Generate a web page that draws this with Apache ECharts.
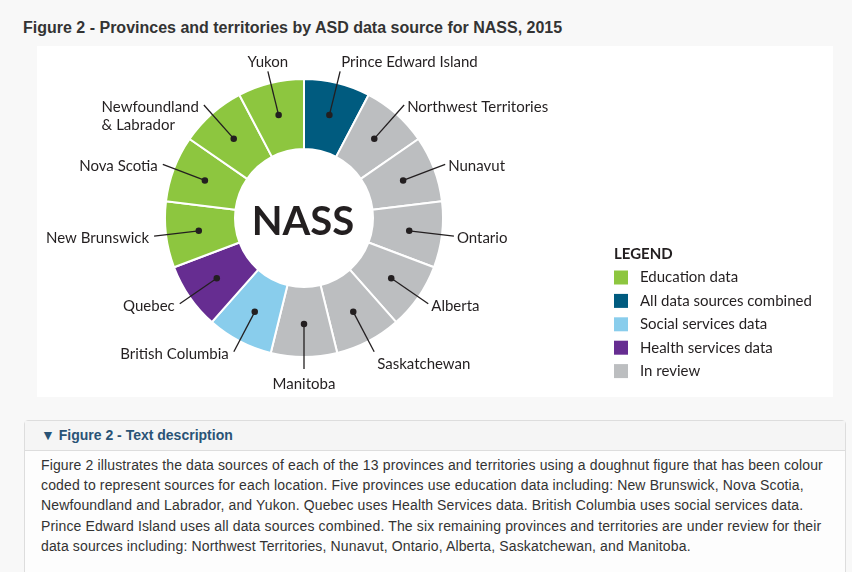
<!DOCTYPE html>
<html>
<head>
<meta charset="utf-8">
<script src="https://cdn.jsdelivr.net/npm/echarts@6/dist/echarts.min.js"></script>
<style>
    body { margin: 0; background: #f8f8f8; font-family: "Liberation Sans", Arial, sans-serif; color: #333; }
    #titre { position: absolute; left: 23px; top: 19px; margin: 0; font-size: 16px; font-weight: bold; color: #333; }
    #mainb { position: absolute; left: 37px; top: 46px; width: 796px; height: 351px; background: #fff; }
    #desc { position: absolute; left: 24px; top: 420px; width: 820px; height: 170px; border: 1px solid #ddd; border-radius: 4px; background: #fdfdfd; }
    #desc .entete { height: 29px; line-height: 29px; padding-left: 16px; border-bottom: 1px solid #ddd; background: #f5f5f5; font-weight: bold; font-size: 14px; color: #295376; }
    #desc .texte { padding: 4px 0 0 16px; font-size: 14px; line-height: 20.2px; letter-spacing: 0.14px; color: #333; white-space: nowrap; }
</style>
</head>
<body>
<h2 id="titre">Figure 2 - Provinces and territories by ASD data source for NASS, 2015</h2>
<div id="mainb"></div>
<div id="desc">
    <div class="entete">&#9660; Figure 2 - Text description</div>
    <div class="texte">Figure 2 illustrates the data sources of each of the 13 provinces and territories using a doughnut figure that has been colour<br>coded to represent sources for each location. Five provinces use education data including: New Brunswick, Nova Scotia,<br>Newfoundland and Labrador, and Yukon. Quebec uses Health Services data. British Columbia uses social services data.<br>Prince Edward Island uses all data sources combined. The six remaining provinces and territories are under review for their<br>data sources including: Northwest Territories, Nunavut, Ontario, Alberta, Saskatchewan, and Manitoba.</div>
</div>
<script>
// provinces clockwise from the top
var provinces = ['Prince Edward Island', 'Northwest Territories', 'Nunavut', 'Ontario', 'Alberta',
    'Saskatchewan', 'Manitoba', 'British Columbia', 'Quebec', 'New Brunswick', 'Nova Scotia',
    'Newfoundland & Labrador', 'Yukon'];
var sources = ['All data sources combined', 'In review', 'In review', 'In review', 'In review',
    'In review', 'In review', 'Social services data', 'Health services data', 'Education data',
    'Education data', 'Education data', 'Education data'];
var parts = [1, 1, 1, 1, 1, 1, 1, 1, 1, 1, 1, 1, 1];
var legende = ['Education data', 'All data sources combined', 'Social services data', 'Health services data', 'In review'];

var couleurs = {
    'Education data': '#8dc63f',
    'All data sources combined': '#005b7f',
    'Social services data': '#89cdec',
    'Health services data': '#662d91',
    'In review': '#bcbec0'
};

var centre = [267, 172];
var rayonPoint = 106;
var encre = '#231f20';

var chart = echarts.init(document.getElementById('mainb'));

var anneau = provinces.map(function(p, i) {
    return { name: p, value: parts[i], itemStyle: { color: couleurs[sources[i]] } };
});
var etiquettes = provinces.map(function(p, i) {
    return { name: p, value: parts[i] };
});
var points = provinces.map(function(p) {
    return [rayonPoint, p];
});

// place the text at the end of each radial line
function placer(params) {
    var pts = params.labelLinePoints;
    if (!pts) return {};
    var a = pts[0], b = pts[pts.length - 1];
    var dx = b[0] - a[0], dy = b[1] - a[1];
    var r = Math.abs(dx) / Math.abs(dy);
    var lignes = (params.text || '').split('\n').length;
    if (r < 0.3) {
        return {
            x: dx > 1 ? b[0] + 1 : b[0], y: b[1] + (dy < 0 ? 0 : 6),
            align: dx > 1 ? 'left' : 'center', verticalAlign: dy < 0 ? 'bottom' : 'top',
            labelLinePoints: pts
        };
    }
    if (r < 0.6 && dx > 0 && dy > 0) {
        return { x: b[0] + 3, y: b[1] + 3, align: 'left', verticalAlign: 'top', labelLinePoints: pts };
    }
    return {
        x: b[0] + (dx < 0 ? -5 : 3), y: b[1] + 2 + (lignes - 1) * 9,
        align: dx < 0 ? 'right' : 'left', verticalAlign: 'middle',
        labelLinePoints: pts
    };
}

var series = [{
        type: 'pie',
        silent: true,
        center: centre,
        radius: [69, 139],
        startAngle: 90,
        clockwise: true,
        label: { show: false },
        labelLine: { show: false },
        itemStyle: { borderColor: '#fff', borderWidth: 2 },
        data: anneau
    },
    {
        type: 'pie',
        silent: true,
        z: 3,
        center: centre,
        radius: [0, rayonPoint],
        startAngle: 90,
        clockwise: true,
        avoidLabelOverlap: false,
        itemStyle: { color: 'rgba(0,0,0,0)' },
        label: {
            show: true,
            position: 'outside',
            color: encre,
            fontFamily: 'Lato',
            fontSize: 15,
            lineHeight: 18,
            formatter: function(p) {
                if (p.name.indexOf(' & ') < 0) return p.name;
                return p.name.split(' & ').map(function(s, k) {
                    return '{g|' + (k ? '& ' : '') + s + '}';
                }).join('\n');
            },
            rich: {
                g: { align: 'left', fontFamily: 'Lato', fontSize: 15, lineHeight: 18, color: encre }
            }
        },
        labelLine: { show: true, length: 45, length2: 0, lineStyle: { color: encre, width: 1.3 } },
        labelLayout: placer,
        data: etiquettes
    },
    {
        type: 'scatter',
        coordinateSystem: 'polar',
        silent: true,
        z: 4,
        symbolSize: 6.5,
        itemStyle: { color: encre, opacity: 1 },
        data: points
    }
];

legende.forEach(function(n) {
    series.push({
        type: 'scatter', coordinateSystem: 'polar', name: n, data: [],
        itemStyle: { color: couleurs[n], opacity: 1 }
    });
});

chart.setOption({
    animation: false,
    title: {
        text: 'LEGEND',
        left: 572,
        top: 196,
        textStyle: { fontFamily: 'Lato', fontWeight: 'bold', fontSize: 15, color: encre }
    },
    legend: {
        orient: 'vertical',
        left: 572,
        top: 219,
        icon: 'rect',
        itemWidth: 14,
        itemHeight: 14,
        itemGap: 8.4,
        selectedMode: false,
        data: legende,
        itemStyle: { opacity: 1 },
        textStyle: { fontFamily: 'Lato', fontSize: 15, lineHeight: 14, color: encre, padding: [0, 0, 0, 7] }
    },
    polar: { center: centre, radius: 139 },
    angleAxis: {
        type: 'category',
        data: provinces,
        startAngle: 90,
        clockwise: true,
        axisLine: { show: false },
        axisTick: { show: false },
        axisLabel: { show: false },
        splitLine: { show: false }
    },
    radiusAxis: { type: 'value', min: 0, max: 139, show: false },
    graphic: [{
        type: 'text',
        z: 10,
        style: {
            text: 'NASS',
            x: centre[0] - 1,
            y: centre[1] + 4,
            align: 'center',
            verticalAlign: 'middle',
            font: 'bold 40px Lato',
            fill: encre
        }
    }],
    series: series
});
</script>
</body>
</html>
